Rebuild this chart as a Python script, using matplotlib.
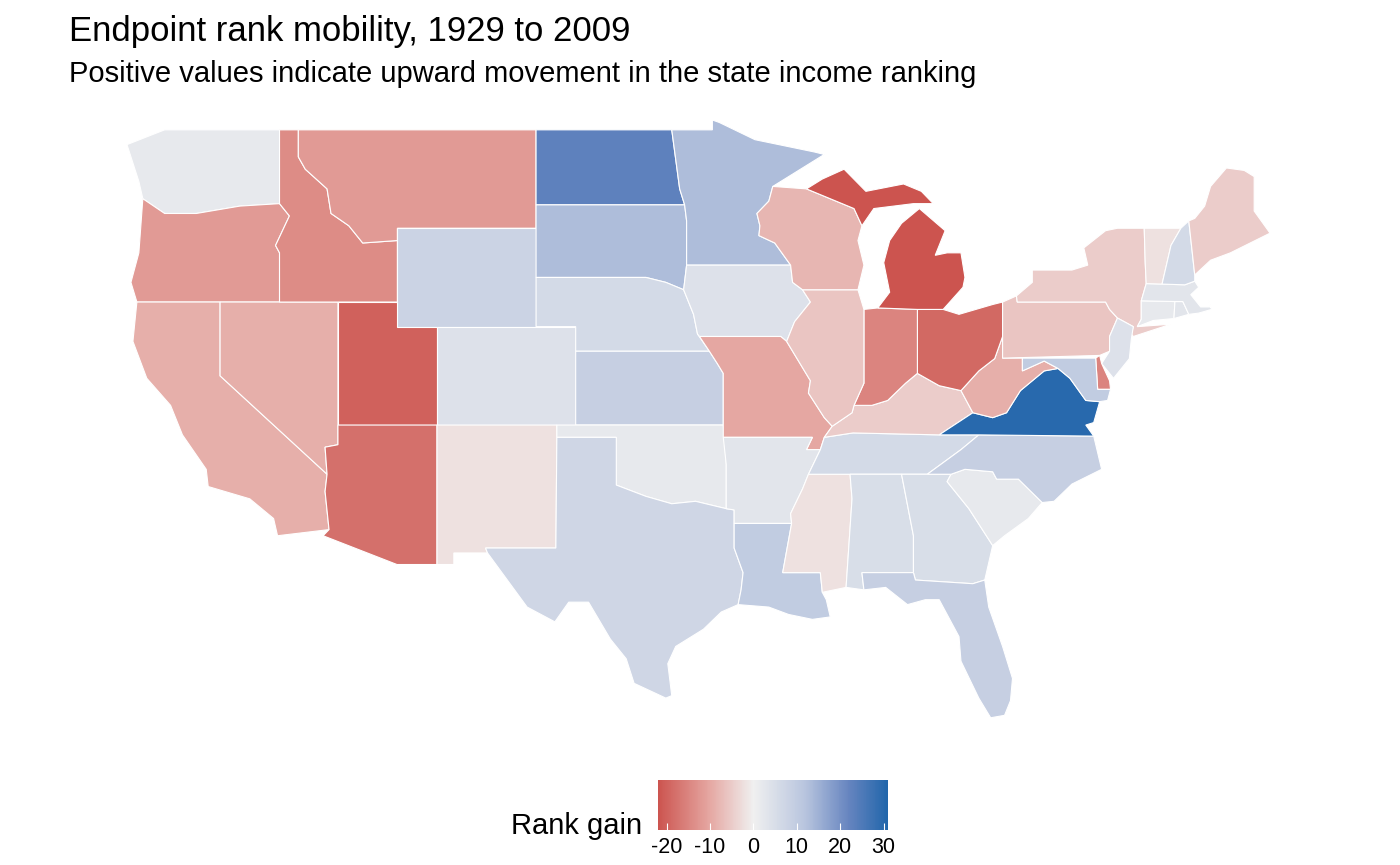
import matplotlib
matplotlib.use("Agg")
import matplotlib.pyplot as plt
import numpy as np
from matplotlib.colors import LinearSegmentedColormap, Normalize
from matplotlib.patches import Polygon
import matplotlib.cm as cm

plt.rcParams['font.family'] = ['Liberation Sans', 'DejaVu Sans']
plt.rcParams['axes.unicode_minus'] = False

states = ["WA","OR","CA","NV","ID","MT","WY","UT","CO","AZ","NM","ND","SD","NE","KS","OK","TX",
          "MN","IA","MO","AR","LA","MS","TN","KY","AL","GA","FL","SC","NC","VA","WV","OH","IN","IL",
          "WI","MI","MI_UP","PA","NY","NJ","DE","MD","CT","RI","MA","VT","NH","ME"]
rank_gain = [2,-12,-9,-9,-14,-12,8,-20,4,-18,-2,23,13,6,9,2,7,
             13,4,-10,3,10,-2,6,-5,5,5,9,2,9,30,-9,-19,-15,-6,
             -8,-22,-22,-6,-5,4,-15,10,2,3,3,-2,6,-5]

shapes = {
"WA":[(-124.7,48.4),(-122.8,49),(-117,49),(-117,46),(-119,45.9),(-121.2,45.6),(-122.8,45.6),(-123.9,46.2),(-124.1,46.9)],
"OR":[(-123.9,46.2),(-122.8,45.6),(-121.2,45.6),(-119,45.9),(-117,46),(-116.5,45.5),(-117.2,44.3),(-117,44),(-117,42),(-124.2,42),(-124.5,42.8),(-124.1,44)],
"CA":[(-124.2,42),(-120,42),(-120,39),(-114.6,35),(-114.7,34.3),(-114.5,32.75),(-117.1,32.5),(-117.3,33.2),(-118.5,34),(-120.6,34.5),(-120.7,35.2),(-121.9,36.6),(-122.5,37.8),(-123.7,38.9),(-124.4,40.4)],
"NV":[(-120,42),(-114.05,42),(-114.05,36.2),(-114.7,36.1),(-114.6,35),(-120,39)],
"ID":[(-117,49),(-116.05,49),(-116.05,47.9),(-115.7,47.4),(-114.6,46.6),(-114.4,45.6),(-113.5,45.1),(-112.8,44.4),(-111.05,44.5),(-111.05,42),(-117,42),(-117,44),(-117.2,44.3),(-116.5,45.5),(-117,46)],
"MT":[(-116.05,49),(-104.05,49),(-104.05,45),(-111.05,45),(-111.05,44.5),(-112.8,44.4),(-113.5,45.1),(-114.4,45.6),(-114.6,46.6),(-115.7,47.4),(-116.05,47.9)],
"WY":[(-111.05,45),(-104.05,45),(-104.05,41),(-111.05,41)],
"UT":[(-114.05,42),(-111.05,42),(-111.05,41),(-109.05,41),(-109.05,37),(-114.05,37)],
"CO":[(-109.05,41),(-102.05,41),(-102.05,37),(-109.05,37)],
"AZ":[(-114.05,37),(-109.05,37),(-109.05,31.33),(-111.07,31.33),(-114.8,32.5),(-114.5,32.75),(-114.7,34.3),(-114.6,35),(-114.7,36.1),(-114.05,36.2)],
"NM":[(-109.05,37),(-103,37),(-103,36.5),(-103.05,32),(-106.6,32),(-106.5,31.8),(-108.2,31.8),(-108.2,31.33),(-109.05,31.33)],
"ND":[(-104.05,49),(-97.2,49),(-96.8,46.6),(-96.55,45.95),(-104.05,45.95)],
"SD":[(-104.05,45.95),(-96.55,45.95),(-96.45,45.3),(-96.45,43.5),(-96.6,42.5),(-97.5,42.8),(-98.5,43),(-104.05,43)],
"NE":[(-104.05,43),(-98.5,43),(-97.5,42.8),(-96.6,42.5),(-96.1,41.5),(-95.9,40.7),(-95.3,40),(-102.05,40),(-102.05,41),(-104.05,41)],
"KS":[(-102.05,40),(-95.3,40),(-94.9,39.5),(-94.6,39.1),(-94.6,37),(-102.05,37)],
"OK":[(-103,37),(-94.6,37),(-94.45,35.4),(-94.45,33.6),(-96,33.9),(-97.2,33.8),(-98.5,34.1),(-100,34.56),(-100,36.5),(-103,36.5)],
"TX":[(-103,36.5),(-100,36.5),(-100,34.56),(-98.5,34.1),(-97.2,33.8),(-96,33.9),(-94.45,33.6),(-94.05,33.55),(-94.05,32),(-93.6,31),(-93.7,30.3),(-93.85,29.7),(-94.7,29.4),(-95.6,28.7),(-97,28),(-97.4,27.3),(-97.2,26),(-97.5,25.9),(-99.1,26.5),(-99.5,27.5),(-100.3,28.3),(-101.4,29.8),(-102.4,29.8),(-103.1,29),(-104.5,29.6),(-106.5,31.8),(-106.6,32),(-103.05,32)],
"MN":[(-97.2,49),(-95.15,49),(-95.15,49.4),(-94.8,49.3),(-93,48.6),(-90,48.1),(-89.5,48),(-92.1,46.7),(-92.3,46.1),(-92.9,45.6),(-92.75,45.1),(-92.8,44.7),(-92,44.4),(-91.2,43.5),(-96.45,43.5),(-96.45,45.3),(-96.55,45.95),(-96.8,46.6)],
"IA":[(-96.45,43.5),(-91.2,43.5),(-91.1,42.8),(-90.6,42.5),(-90.2,42),(-91,41.2),(-91.4,40.4),(-91.7,40.6),(-95.8,40.6),(-95.9,40.7),(-96.1,41.5),(-96.6,42.5)],
"MO":[(-95.8,40.6),(-91.7,40.6),(-91.4,40.4),(-90.2,38.8),(-90.3,38.3),(-89.5,37.3),(-89.1,36.95),(-89.5,36.5),(-89.7,36),(-90.4,36),(-90.1,36.5),(-94.6,36.5),(-94.6,39.1),(-94.9,39.5),(-95.3,40)],
"AR":[(-94.6,36.5),(-90.1,36.5),(-90.4,36),(-89.7,36),(-90.3,35),(-90.6,34.4),(-91.2,33.4),(-91.15,33),(-94.05,33),(-94.05,33.55),(-94.45,33.6),(-94.45,35.4)],
"LA":[(-94.05,33),(-91.15,33),(-91.6,31),(-89.7,31),(-89.6,30.2),(-89.4,29.9),(-89.2,29.2),(-90.1,29.1),(-91.3,29.3),(-92.3,29.6),(-93.85,29.7),(-93.7,30.3),(-93.6,31),(-94.05,32)],
"MS":[(-90.3,35),(-88.2,35),(-88.1,34),(-88.4,30.4),(-89.6,30.2),(-89.7,31),(-91.6,31),(-91.15,33),(-91.2,33.4),(-90.6,34.4)],
"TN":[(-90.3,35),(-88.2,35),(-85.6,35),(-84.3,35),(-82.6,36),(-81.7,36.6),(-83.7,36.6),(-88.05,36.68),(-89.5,36.5),(-89.7,36)],
"KY":[(-89.1,36.95),(-89.5,36.5),(-88.05,36.68),(-83.7,36.6),(-82,37.5),(-82.6,38.4),(-83.7,38.6),(-84.8,39.1),(-85.4,38.7),(-86.3,38),(-87.1,37.8),(-88,37.8),(-88.1,37.5)],
"AL":[(-88.2,35),(-85.6,35),(-85,32.5),(-85,31),(-87.6,31),(-87.5,30.3),(-88.4,30.4),(-88.1,34)],
"GA":[(-85.6,35),(-83.1,35),(-83.3,34.7),(-82.2,33.6),(-81,32.1),(-81.4,30.7),(-82,30.55),(-84.9,30.7),(-85,31),(-85,32.5)],
"FL":[(-87.6,31),(-85,31),(-84.9,30.7),(-82,30.55),(-81.4,30.7),(-81.2,29.6),(-80.5,28),(-80,26.7),(-80.1,25.8),(-80.4,25.2),(-81.1,25.1),(-81.7,25.9),(-82.6,27.4),(-82.7,28.4),(-83.7,29.9),(-84.4,29.9),(-85.3,29.7),(-86.4,30.4),(-87.5,30.3)],
"SC":[(-83.1,35),(-82.4,35.2),(-81,35.1),(-80.8,34.8),(-79.7,34.8),(-78.5,33.85),(-79.2,33.2),(-80.4,32.5),(-81,32.1),(-82.2,33.6),(-83.3,34.7)],
"NC":[(-84.3,35),(-83.1,35),(-82.4,35.2),(-81,35.1),(-80.8,34.8),(-79.7,34.8),(-78.5,33.85),(-77.9,33.9),(-77,34.6),(-76,35),(-75.5,35.2),(-75.9,36.55),(-81.7,36.6),(-82.6,36)],
"VA":[(-75.9,36.55),(-81.7,36.6),(-83.7,36.6),(-82,37.5),(-81,37.3),(-80.3,37.5),(-79.6,38.4),(-78.4,39.2),(-77.7,39.3),(-77.1,38.9),(-76.3,38),(-75.6,37.95),(-75.9,37.1),(-76.3,37)],
"WV":[(-82,37.5),(-82.6,38.4),(-81.7,39.2),(-80.9,39.7),(-80.5,40.6),(-80.5,39.72),(-79.5,39.72),(-79.5,39.2),(-78.4,39.6),(-77.7,39.3),(-78.4,39.2),(-79.6,38.4),(-80.3,37.5),(-81,37.3)],
"OH":[(-84.8,41.7),(-83.5,41.7),(-82.7,41.5),(-81,41.9),(-80.5,42),(-80.5,40.6),(-80.9,39.7),(-81.7,39.2),(-82.6,38.4),(-83.7,38.6),(-84.8,39.1)],
"IN":[(-87.5,41.7),(-86.8,41.76),(-84.8,41.7),(-84.8,39.1),(-85.4,38.7),(-86.3,38),(-87.1,37.8),(-88,37.8),(-87.5,38.7)],
"IL":[(-90.6,42.5),(-87.8,42.5),(-87.5,41.7),(-87.5,38.7),(-88,37.8),(-88.1,37.5),(-89.1,36.95),(-89.5,37.3),(-90.3,38.3),(-90.2,38.8),(-91.4,40.4),(-91,41.2),(-90.2,42)],
"WI":[(-92.1,46.7),(-90.4,46.6),(-88,45.8),(-87.6,45.1),(-87.8,44.5),(-87.5,43.5),(-87.8,42.5),(-90.6,42.5),(-91.1,42.8),(-91.2,43.5),(-92,44.4),(-92.8,44.7),(-92.75,45.1),(-92.9,45.6),(-92.3,46.1)],
"MI":[(-86.8,41.76),(-84.8,41.7),(-83.5,41.7),(-82.5,42.6),(-82.4,43),(-82.6,44),(-83.3,44),(-83.9,43.9),(-83.4,44.9),(-84.7,45.8),(-85.6,45.2),(-86.2,44.5),(-86.5,43.6),(-86.2,42.4)],
"MI_UP":[(-90.4,46.6),(-88,45.8),(-87.6,45.1),(-87,45.8),(-85,46),(-84,46),(-84.6,46.5),(-85.5,46.8),(-87.4,46.5),(-88.5,47.4),(-89.6,47)],
"PA":[(-80.5,42),(-79.8,42.25),(-79.76,42),(-75.3,42),(-75.1,41.7),(-74.7,41.35),(-75.1,40.6),(-75.1,40),(-75.6,39.83),(-80.5,39.72),(-80.5,40.6)],
"NY":[(-79.76,42),(-79.8,42.25),(-79,42.8),(-79,43.3),(-77,43.3),(-76.2,43.5),(-76.4,44.2),(-75.3,44.9),(-74.7,45),(-73.35,45),(-73.3,43.6),(-73.25,42.75),(-73.5,42.05),(-73.5,41.3),(-73.7,41),(-72,41.1),(-73.9,40.6),(-74,40.7),(-73.9,41),(-74.7,41.35),(-75.1,41.7),(-75.3,42)],
"NJ":[(-74.7,41.35),(-73.9,41),(-74,40.5),(-74.1,39.7),(-74.9,38.9),(-75.5,39.5),(-75.1,40),(-75.1,40.6)],
"DE":[(-75.8,39.72),(-75.6,39.83),(-75.5,39.5),(-75.1,38.8),(-75.05,38.45),(-75.7,38.45)],
"MD":[(-79.5,39.72),(-75.8,39.72),(-75.7,38.45),(-75.05,38.45),(-75.2,38),(-75.6,37.95),(-76.3,38),(-77.1,38.9),(-77.7,39.3),(-78.4,39.6),(-79.5,39.2)],
"CT":[(-73.5,42.05),(-71.8,42.02),(-71.85,41.33),(-72.9,41.25),(-73.7,41),(-73.5,41.3)],
"RI":[(-71.8,42.02),(-71.4,42.02),(-71.1,41.5),(-71.85,41.33)],
"MA":[(-73.5,42.05),(-73.25,42.75),(-71.3,42.7),(-70.8,42.85),(-70.6,42.6),(-71,42.3),(-70.5,41.8),(-70,41.8),(-70.1,42.05),(-69.95,41.7),(-70.6,41.55),(-71.1,41.5),(-71.4,42.02),(-71.8,42.02)],
"VT":[(-73.35,45),(-71.5,45),(-72,44.3),(-72.45,42.73),(-73.25,42.75),(-73.3,43.6)],
"NH":[(-71.5,45),(-71.1,45.3),(-70.8,43.1),(-70.8,42.85),(-71.3,42.7),(-72.45,42.73),(-72,44.3)],
"ME":[(-71.1,45.3),(-70.8,43.1),(-70,43.7),(-69,44),(-67,44.8),(-67.8,45.7),(-67.8,47.1),(-68.3,47.35),(-69.2,47.45),(-70,46.7),(-70.3,45.9),(-70.8,45.4)],
}

vmin, vmax = -22, 31
nodes = [(-22, (0.80, 0.33, 0.31)), (-10, (0.90, 0.66, 0.64)), (0, (0.94, 0.94, 0.94)),
         (12, (0.72, 0.77, 0.87)), (22, (0.40, 0.52, 0.75)), (31, (0.13, 0.40, 0.67))]
cmap = LinearSegmentedColormap.from_list("g2", [((v - vmin) / (vmax - vmin), c) for v, c in nodes])
norm = Normalize(vmin, vmax)

fig = plt.figure(figsize=(14, 8.65), dpi=100)
ax = fig.add_axes([125/1400, 1-735/865, 1147/1400, 615/865])
for s, v in zip(states, rank_gain):
    ax.add_patch(Polygon(shapes[s], closed=True, facecolor=cmap(norm(v)), edgecolor="white", linewidth=0.8))
ax.set_xlim(-124.8, -66.9)
ax.set_ylim(24.4, 49.4)
ax.axis("off")

fig.text(69/1400, 1-32/865, "Endpoint rank mobility, 1929 to 2009", fontsize=25, va="center", ha="left")
fig.text(69/1400, 1-74/865, "Positive values indicate upward movement in the state income ranking", fontsize=21, va="center", ha="left")

cax = fig.add_axes([658/1400, 1-830/865, 230/1400, 50/865])
cb = fig.colorbar(cm.ScalarMappable(norm=norm, cmap=cmap), cax=cax, orientation="horizontal")
cb.set_ticks([-20, -10, 0, 10, 20, 30])
cb.ax.tick_params(labelsize=15.5, length=5, color="white", direction="in", pad=5)
cb.outline.set_visible(False)
fig.text(642/1400, 1-826/865, "Rank gain", fontsize=21, ha="right", va="center")

fig.savefig("out.png", dpi=100)
